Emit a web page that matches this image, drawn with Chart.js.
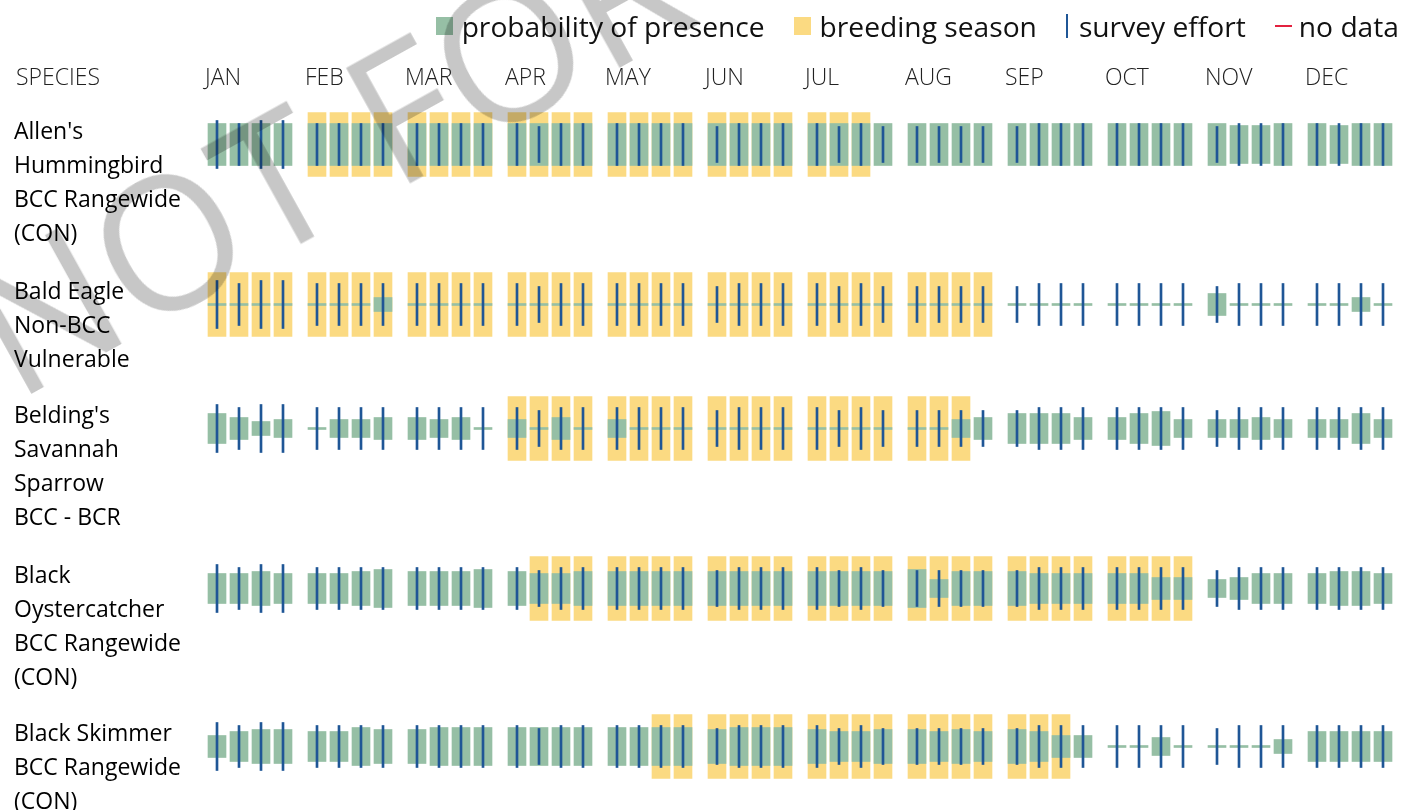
<!DOCTYPE html>
<html>
<head>
<meta charset="utf-8">
<title>Probability of presence summary</title>
<script src="https://cdn.jsdelivr.net/npm/chart.js@4.4.1/dist/chart.umd.min.js"></script>
<style>
    html, body { margin: 0; padding: 0; background: #fff; }
    body {
        width: 1416px; height: 810px; overflow: hidden; position: relative;
        font-family: "Open Sans", "DejaVu Sans", sans-serif; color: #111;
    }
    #chart-wrap { position: absolute; left: 0; top: 0; width: 1416px; height: 810px; }
    .legend { position: absolute; top: 6px; right: 17px; display: flex; align-items: center; font-size: 28.2px; line-height: 40px; }
    .legend-item { display: flex; align-items: center; margin-left: 29px; }
    .swatch { width: 17px; height: 18px; margin-right: 9px; }
    .tick-mark { width: 2px; height: 24px; margin-right: 11px; }
    .dash-mark { width: 17px; height: 2px; margin-right: 7px; }
    .header { position: absolute; top: 59px; font-size: 23px; line-height: 34px; font-weight: 300; color: #222; white-space: nowrap; }
    .species { position: absolute; left: 14px; font-size: 23px; line-height: 34px; color: #000; white-space: nowrap; }
    #watermark {
        position: absolute; left: 18px; top: 238px; font-size: 185px; line-height: 185px;
        color: rgba(0, 0, 0, 0.22); white-space: nowrap; pointer-events: none;
        transform-origin: 0 169px; transform: rotate(-29deg);
    }
</style>
</head>
<body>
<div id="chart-wrap"><canvas id="presence-chart"></canvas></div>
<div class="legend" id="legend"></div>
<div id="labels"></div>
<div id="watermark">NOT FOR CONSULTATION</div>

<script>
// month columns, four weeks each
const months = ['JAN', 'FEB', 'MAR', 'APR', 'MAY', 'JUN', 'JUL', 'AUG', 'SEP', 'OCT', 'NOV', 'DEC'];

const speciesLabels = [
    ["Allen's", 'Hummingbird', 'BCC Rangewide', '(CON)'],
    ['Bald Eagle', 'Non-BCC', 'Vulnerable'],
    ["Belding's", 'Savannah', 'Sparrow', 'BCC - BCR'],
    ['Black', 'Oystercatcher', 'BCC Rangewide', '(CON)'],
    ['Black Skimmer', 'BCC Rangewide', '(CON)']
];

// probability of presence, 0-10 per week
const presenceAllens = [
    10, 10, 10, 10,  10, 10, 10, 10,  10, 10, 10, 10,  10, 10, 10, 10,
    10, 10, 10, 10,  10, 10, 10, 10,  10, 10, 10, 10,  10, 10, 10, 10,
    10, 10, 10, 10,  10, 10, 10, 10,  10, 9, 9, 10,    10, 9, 10, 10
];
const presenceBaldEagle = [
    0, 0, 0, 0,  0, 0, 0, 3,  0, 0, 0, 0,  0, 0, 0, 0,
    0, 0, 0, 0,  0, 0, 0, 0,  0, 0, 0, 0,  0, 0, 0, 0,
    0, 0, 0, 0,  0, 0, 0, 0,  5, 0, 0, 0,  0, 0, 3, 0
];
const presenceBeldings = [
    7, 5, 3, 4,  0, 4, 4, 5,  5, 4, 5, 0,  4, 0, 5, 0,
    4, 0, 0, 0,  0, 0, 0, 0,  0, 0, 0, 0,  0, 0, 4, 5,
    7, 7, 7, 5,  5, 7, 8, 4,  4, 4, 5, 4,  4, 4, 7, 4
];
const presenceOystercatcher = [
    7, 7, 8, 7,  7, 7, 8, 9,  8, 8, 8, 9,  8, 7, 7, 8,
    8, 8, 8, 8,  8, 8, 8, 8,  8, 8, 8, 8,  9, 4, 8, 8,
    8, 7, 7, 7,  7, 7, 5, 5,  4, 5, 7, 7,  7, 8, 8, 7
];
const presenceSkimmer = [
    5, 7, 8, 8,  7, 7, 9, 8,  8, 9, 9, 9,  9, 9, 9, 9,
    9, 9, 9, 9,  8, 9, 9, 9,  8, 7, 7, 8,  8, 7, 8, 7,
    8, 7, 5, 5,  0, 0, 4, 0,  0, 0, 0, 3,  7, 7, 7, 7
];
const presence = [presenceAllens, presenceBaldEagle, presenceBeldings, presenceOystercatcher, presenceSkimmer];

// survey effort per week (same survey grid for every species)
const surveyEffort = [
    8, 7, 8, 8,  7, 7, 7, 7,  7, 7, 7, 7,  7, 6, 7, 7,
    7, 7, 7, 7,  6, 7, 7, 7,  7, 6, 7, 6,  6, 6, 6, 6,
    6, 7, 7, 7,  7, 7, 7, 7,  6, 7, 7, 7,  7, 7, 7, 7
];

// breeding season, first and last week index (inclusive)
const breedingStart = [4, 0, 12, 13, 18];
const breedingEnd = [26, 31, 30, 39, 34];

const GREEN = '#96bfa5';
const YELLOW = '#fbda82';
const BLUE = '#1f5696';
const RED = '#e3213f';

// layout: vertical centre of each species row, in page pixels
const rowCenters = [144.5, 304.5, 428.5, 588.5, 746.5];

function weekX(i) {
    const month = Math.floor(i / 4);
    return month + 0.09 + (i % 4) * 0.22;
}

function buildDatasets() {
    const sets = [];
    rowCenters.forEach((c, r) => {
        sets.push({
            label: 'survey effort',
            data: surveyEffort.map((e, i) => ({ x: weekX(i), y: [c - e * 3, c + e * 3] })),
            backgroundColor: BLUE,
            barThickness: 2,
            order: 0
        });
        sets.push({
            label: 'probability of presence',
            data: presence[r].map((p, i) => ({ x: weekX(i), y: [c - 1 - p * 2, c + 1 + p * 2] })),
            backgroundColor: GREEN,
            barThickness: 18,
            order: 1
        });
        const breeding = [];
        for (let i = breedingStart[r]; i <= breedingEnd[r]; i++) {
            breeding.push({ x: weekX(i), y: [c - 32, c + 32] });
        }
        sets.push({
            label: 'breeding season',
            data: breeding,
            backgroundColor: YELLOW,
            barThickness: 18,
            order: 2
        });
    });
    return sets;
}

const chart = new Chart(document.getElementById('presence-chart'), {
    type: 'bar',
    data: { datasets: buildDatasets() },
    options: {
        responsive: true,
        maintainAspectRatio: false,
        animation: false,
        layout: { padding: 0 },
        datasets: { bar: { grouped: false, borderWidth: 0 } },
        plugins: {
            legend: { display: false },
            tooltip: { enabled: false }
        },
        scales: {
            x: { type: 'linear', min: -2.08, max: 12.08, offset: false, display: false },
            y: { type: 'linear', min: 0, max: 810, reverse: true, display: false }
        }
    }
});

// legend
const legendItems = [
    { text: 'probability of presence', cls: 'swatch', color: GREEN },
    { text: 'breeding season', cls: 'swatch', color: YELLOW },
    { text: 'survey effort', cls: 'tick-mark', color: BLUE },
    { text: 'no data', cls: 'dash-mark', color: RED }
];
document.getElementById('legend').innerHTML = legendItems.map(item => `
    <div class="legend-item"><div class="${item.cls}" style="background:${item.color}"></div><span>${item.text}</span></div>
`).join('');

// headers and species names, placed from the chart scales
const xScale = chart.scales.x;
let labelsHTML = '<div class="header" style="left:16px">SPECIES</div>';
months.forEach((m, i) => {
    labelsHTML += `<div class="header" style="left:${xScale.getPixelForValue(i) - 3}px">${m}</div>`;
});
speciesLabels.forEach((lines, r) => {
    labelsHTML += `<div class="species" style="top:${rowCenters[r] - 32}px">${lines.join('<br>')}</div>`;
});
document.getElementById('labels').innerHTML = labelsHTML;
</script>
</body>
</html>
